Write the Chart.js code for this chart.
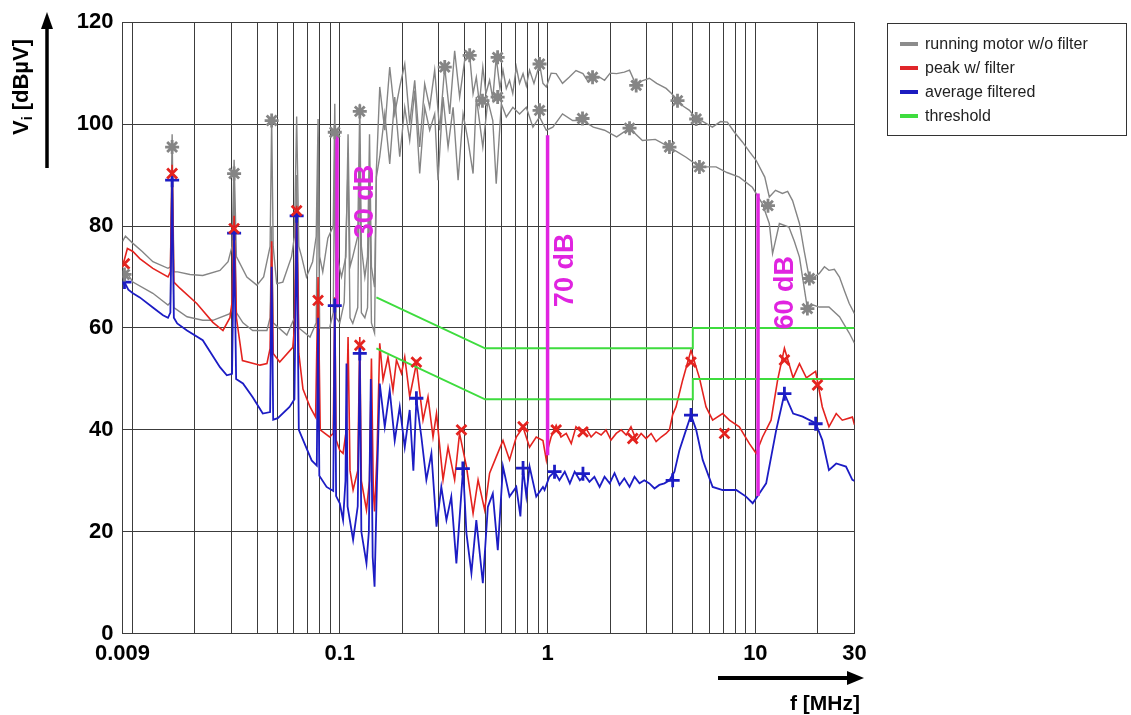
<!DOCTYPE html>
<html>
<head>
<meta charset="utf-8">
<title>Conducted emission V_i</title>
<script src="https://cdn.jsdelivr.net/npm/chart.js@4.4.1/dist/chart.umd.min.js"></script>
<style>
  html, body { margin: 0; padding: 0; background: #fff; }
  #wrap { position: relative; width: 1131px; height: 715px; }
  #legend {
    position: absolute; left: 887px; top: 23px; width: 240px; height: 113px;
    box-sizing: border-box; border: 1.5px solid #333; padding-top: 8px;
    font-family: Arial, "Liberation Sans", sans-serif; font-size: 16px; color: #222;
  }
  .item { display: flex; align-items: center; height: 24px; padding-left: 12px; }
  .swatch { width: 18px; height: 4px; margin-right: 7px; }
</style>
</head>
<body>
<div id="wrap">
  <canvas id="chart" width="1131" height="715"></canvas>
  <div id="legend"></div>
</div>
<script>
// frequency grid (MHz) and labelled ticks
const xGridLines = [0.009, 0.01, 0.02, 0.03, 0.04, 0.05, 0.06, 0.07, 0.08, 0.09,
  0.1, 0.2, 0.3, 0.4, 0.5, 0.6, 0.7, 0.8, 0.9,
  1, 2, 3, 4, 5, 6, 7, 8, 9, 10, 20, 30];
const xLabelValues = [0.009, 0.1, 1, 10, 30];
const yTicks = [0, 20, 40, 60, 80, 100, 120];

// running motor w/o filter, upper (peak) trace  [f MHz, dBuV]
const grayPeak = [
  [0.009, 77], [0.0093, 78], [0.0101, 76.6], [0.0112, 75], [0.0126, 73], [0.0149, 71.7], [0.0153, 72],
  [0.0156, 98], [0.0159, 71], [0.0166, 71], [0.019, 70.5], [0.0219, 70.3], [0.0265, 71.3], [0.029, 73],
  [0.0303, 76], [0.031, 93], [0.0318, 74], [0.0357, 70], [0.0399, 68.4], [0.043, 70], [0.0462, 76],
  [0.047, 101], [0.0478, 76], [0.0497, 68.7], [0.0532, 69], [0.0586, 74], [0.0605, 78], [0.062, 101.5],
  [0.0635, 76], [0.0655, 74], [0.0691, 70], [0.074, 73], [0.077, 78], [0.0786, 101], [0.08, 74],
  [0.0828, 71], [0.0876, 77.6], [0.093, 80], [0.0946, 104], [0.096, 75], [0.1019, 70], [0.107, 74],
  [0.1096, 98], [0.112, 72], [0.1155, 74], [0.122, 78], [0.1248, 104], [0.127, 76], [0.132, 70],
  [0.136, 74], [0.139, 98], [0.142, 72], [0.147, 68], [0.15, 91],
  [0.1557, 107.3], [0.1646, 98.8], [0.1739, 111.2], [0.1838, 102], [0.1943, 107.3], [0.2054, 111.8],
  [0.217, 100.1], [0.2294, 108.6], [0.2424, 95.5], [0.2562, 107.9], [0.2708, 103.3], [0.2862, 110.6],
  [0.3025, 98.8], [0.3197, 111.2], [0.3379, 102], [0.3571, 114.4], [0.3774, 105.3], [0.3989, 112.5],
  [0.4217, 113.5], [0.438, 106], [0.454, 109.2], [0.47, 104], [0.488, 111.2], [0.505, 106],
  [0.526, 108.6], [0.545, 105], [0.566, 113.1], [0.59, 107], [0.61, 110.6], [0.633, 107],
  [0.656, 108.6], [0.68, 106], [0.707, 111.2], [0.733, 108], [0.762, 109.9], [0.79, 107.5],
  [0.819, 110.6], [0.86, 108], [0.915, 111.8], [0.95, 108], [0.986, 107.3], [1.04, 110], [1.1, 109.9],
  [1.18, 108], [1.27, 109.2], [1.37, 110.5], [1.48, 109.9], [1.57, 108.3], [1.66, 109.2], [1.78, 109.2],
  [1.88, 108.6], [2.0, 110], [2.15, 109.9], [2.34, 110.2], [2.48, 110.6], [2.67, 107.6], [2.85, 108.5],
  [3.09, 109], [3.35, 108], [3.72, 107], [3.95, 106], [4.22, 104.6], [4.5, 103.5], [4.82, 102.7],
  [5.19, 101], [5.6, 100.5], [6.21, 99.4], [6.8, 100.5], [7.33, 100.4], [7.9, 98.5], [8.66, 96.5],
  [9.4, 94.5], [10.08, 92.9], [11.1, 89.6], [11.67, 85.7], [12.5, 87], [13.5, 86.4], [14.3, 86.8],
  [15.1, 85], [16.3, 80.5], [17.2, 75], [18.2, 69.7], [19.2, 70], [20.3, 70.7], [21.5, 72],
  [22.6, 71.3], [24, 71.5], [25.4, 70], [27, 67], [28.3, 64.8], [30, 62.8]
];

// running motor w/o filter, lower (average) trace
const grayAvg = [
  [0.009, 70], [0.0094, 71], [0.0101, 69], [0.0126, 66.8], [0.0149, 64.5], [0.0153, 65], [0.0156, 90],
  [0.0159, 64], [0.0184, 62.2], [0.0219, 61.5], [0.0245, 61.5], [0.0296, 62.8], [0.0303, 64],
  [0.031, 88], [0.0318, 63], [0.0342, 61], [0.0381, 59.5], [0.0446, 59.5], [0.0462, 62], [0.047, 80],
  [0.0478, 61], [0.0556, 58.6], [0.0605, 62], [0.062, 90], [0.0635, 60], [0.0719, 58.2], [0.077, 61],
  [0.0786, 95], [0.08, 60], [0.0893, 60], [0.093, 63], [0.0946, 96], [0.096, 62], [0.1, 61],
  [0.105, 65], [0.1096, 92], [0.112, 62], [0.1155, 60.9], [0.122, 64], [0.1248, 96], [0.127, 63],
  [0.132, 62], [0.136, 64], [0.139, 90], [0.142, 61], [0.147, 59], [0.15, 89.6],
  [0.1557, 93.6], [0.1646, 102], [0.1739, 92.2], [0.1838, 105.3], [0.1943, 93.6], [0.2054, 103.3],
  [0.217, 96.8], [0.2294, 106.6], [0.2424, 90.3], [0.2562, 103.3], [0.2708, 98.8], [0.2862, 102],
  [0.297, 89], [0.314, 105.3], [0.332, 95.5], [0.351, 103.3], [0.371, 89], [0.392, 102],
  [0.414, 96.8], [0.438, 90.3], [0.454, 105.3], [0.488, 95.5], [0.516, 104.6], [0.545, 100.7],
  [0.566, 88.3], [0.599, 104], [0.633, 101.4], [0.681, 103.3], [0.733, 102], [0.79, 103.3],
  [0.85, 99.4], [0.915, 101.4], [0.986, 98.8], [1.06, 99.4], [1.18, 102], [1.32, 100.7],
  [1.48, 100.7], [1.66, 99.4], [1.88, 98.8], [2.15, 97.5], [2.48, 99.2], [2.86, 96.8], [3.3, 97],
  [3.86, 95.5], [4.64, 93.5], [5.38, 91.6], [6.47, 91.6], [7.3, 90.5], [8.37, 89.6], [9.67, 87.6],
  [10.8, 84.4], [11.67, 80.5], [12.1, 74.6], [13.05, 80.5], [14.5, 79.8], [15.4, 77], [16.3, 73.9],
  [17.8, 63.8], [19, 64.5], [20.3, 64.1], [22.6, 64.1], [25.4, 62.2], [28.3, 59], [30, 57]
];

// peak w/ filter
const redPeak = [
  [0.009, 72], [0.0095, 75.6], [0.0101, 75], [0.0109, 73.6], [0.0126, 71.7], [0.0149, 70], [0.0153, 71],
  [0.0156, 92], [0.0159, 69], [0.017, 67.8], [0.0205, 64.8], [0.0245, 61.1], [0.0274, 59.5],
  [0.0296, 62], [0.0303, 65], [0.031, 82], [0.0318, 62], [0.034, 53.6], [0.0413, 52.7], [0.0446, 53],
  [0.0462, 56], [0.047, 77], [0.0478, 55], [0.0514, 53.3], [0.0594, 56.2], [0.0605, 60], [0.062, 84],
  [0.0635, 55], [0.0665, 48], [0.0719, 44.5], [0.0765, 42.5], [0.0786, 70], [0.0805, 40],
  [0.0893, 38.6], [0.093, 39.3], [0.0946, 66], [0.096, 38], [0.1, 36], [0.1037, 35.4], [0.1075, 40],
  [0.1096, 58.2], [0.112, 32], [0.1159, 28.2], [0.122, 32], [0.1248, 58.2], [0.127, 30],
  [0.1344, 24.3], [0.139, 30], [0.142, 54], [0.145, 28], [0.147, 24], [0.151, 35], [0.1557, 57],
  [0.1615, 49.8], [0.1706, 54.3], [0.1803, 47.8], [0.1874, 53.7], [0.1981, 51.1], [0.2054, 54.3],
  [0.217, 46.5], [0.2337, 53], [0.2515, 41.9], [0.2658, 46.5], [0.281, 38.6], [0.292, 43.2],
  [0.314, 30.2], [0.332, 36.6], [0.357, 30.2], [0.377, 39.3], [0.407, 32.8], [0.438, 23.6],
  [0.463, 30.2], [0.498, 24.3], [0.526, 31.5], [0.566, 34.7], [0.61, 37.9], [0.656, 34.1],
  [0.707, 38.6], [0.762, 40.5], [0.819, 36.6], [0.882, 38.6], [0.95, 37.9], [0.986, 34.1],
  [1.0, 36], [1.04, 38.6], [1.1, 40.9], [1.16, 38.6], [1.23, 39.3], [1.3, 37.3], [1.37, 40.6],
  [1.45, 39.6], [1.53, 40.3], [1.62, 38.6], [1.71, 39.6], [1.81, 39], [1.91, 40], [2.02, 38],
  [2.14, 39.3], [2.26, 40], [2.39, 39], [2.52, 40.6], [2.67, 38], [2.82, 39.3], [2.98, 38.3],
  [3.15, 39.3], [3.33, 37.7], [3.52, 38.6], [3.72, 39.3], [3.86, 40], [4.0, 43],
  [4.15, 44.5], [4.47, 49.8], [4.9, 55.6], [5.38, 50.2], [5.79, 44.5], [6.23, 41.9], [6.96, 43.2],
  [7.5, 41.9], [8.37, 40.6], [9.36, 37.3], [10.08, 35.4], [10.83, 38.6], [11.9, 41.9], [12.8, 49.8],
  [13.8, 56], [15.2, 50.2], [16.3, 53], [17.6, 50.2], [19.5, 51.5], [21.0, 44.5], [22.6, 40.6],
  [24.5, 43.2], [26.2, 41.9], [29.3, 42.5], [30, 41]
];

// average filtered
const blueAvg = [
  [0.009, 68.5], [0.0092, 69], [0.0096, 67.5], [0.0101, 66.8], [0.0109, 66], [0.0126, 64],
  [0.0141, 62.5], [0.0149, 62], [0.0153, 63], [0.0156, 89.5], [0.0159, 62], [0.0165, 60.9],
  [0.0184, 59.5], [0.0219, 57.6], [0.0265, 52.3], [0.0286, 50.7], [0.0303, 51], [0.031, 79],
  [0.0317, 50], [0.0342, 49.1], [0.0381, 46.4], [0.0426, 43.2], [0.0462, 43.5], [0.047, 72],
  [0.0478, 42], [0.0503, 42.3], [0.0573, 44.5], [0.0605, 46], [0.062, 82.5], [0.0635, 40],
  [0.0732, 34], [0.0775, 33], [0.0786, 62], [0.0797, 31], [0.0864, 28.8], [0.093, 28],
  [0.0946, 64.5], [0.096, 27], [0.1, 25.6], [0.1037, 22.3], [0.1065, 30], [0.1077, 53], [0.109, 25],
  [0.1159, 18.4], [0.122, 25], [0.1248, 55], [0.127, 20], [0.1344, 13.8], [0.138, 20], [0.141, 50],
  [0.144, 15], [0.147, 9.2], [0.151, 30], [0.1557, 49.1], [0.1646, 40.6], [0.1739, 47.8],
  [0.1838, 37.9], [0.1943, 44.5], [0.2054, 36.6], [0.217, 43.9], [0.226, 32], [0.2337, 46],
  [0.247, 38.6], [0.261, 30.2], [0.276, 35.4], [0.292, 21], [0.308, 28.8], [0.326, 22.3],
  [0.344, 26.9], [0.364, 13.8], [0.392, 32.4], [0.407, 19.7], [0.43, 11.9], [0.454, 22.3],
  [0.488, 9.9], [0.516, 24.9], [0.545, 27.5], [0.576, 16.4], [0.61, 32.8], [0.656, 26.9],
  [0.707, 28.8], [0.74, 23], [0.762, 32.5], [0.79, 27], [0.819, 32.8], [0.882, 26.9], [0.95, 28.8],
  [0.967, 28.2], [1.02, 30.8], [1.08, 31.8], [1.14, 30.1], [1.21, 31.8], [1.28, 29.5], [1.35, 31.8],
  [1.43, 30.1], [1.51, 31.1], [1.59, 29.8], [1.68, 30.8], [1.78, 28.8], [1.88, 30.8], [1.99, 29.5],
  [2.1, 31.5], [2.22, 29.2], [2.34, 30.5], [2.48, 28.8], [2.62, 30.8], [2.77, 29.5], [2.92, 30.1],
  [3.09, 29.5], [3.27, 28.5], [3.45, 29.2], [3.65, 29.5], [3.86, 30.1], [4.08, 31.8], [4.31, 36],
  [4.64, 40], [4.9, 42.9], [5.19, 40], [5.58, 34.1], [6.23, 28.8], [6.96, 28.2], [8.09, 28.2],
  [9.02, 26.9], [9.71, 25.6], [10.45, 27.5], [11.27, 29.5], [12.59, 39.9], [13.8, 47.1],
  [15.2, 43.2], [16.9, 42.6], [19.5, 41.3], [21, 38], [22.6, 32.1], [24.5, 33.4], [27.3, 32.8],
  [29.3, 30.2], [30, 30]
];

// measured marker points
const grayMarks = [
  [0.0092, 70.5], [0.0156, 95.5], [0.031, 90.3], [0.047, 100.7], [0.0946, 98.4], [0.1248, 102.5],
  [0.32, 111.2], [0.4217, 113.5], [0.486, 104.6], [0.575, 113.1], [0.575, 105.3], [0.915, 111.8],
  [0.915, 102.7], [1.473, 101.1], [1.646, 109.2], [2.48, 99.2], [2.67, 107.6], [3.86, 95.5],
  [4.22, 104.6], [5.19, 101], [5.38, 91.6], [11.5, 84], [17.8, 63.8], [18.2, 69.7]
];
const redMarks = [
  [0.0092, 72.6], [0.0156, 90.3], [0.031, 79.5], [0.062, 83], [0.0786, 65.4], [0.1248, 56.6],
  [0.2337, 53.3], [0.385, 40], [0.762, 40.6], [1.1, 40], [1.48, 39.6], [2.57, 38.3], [4.9, 53.3],
  [7.1, 39.3], [13.8, 53.7], [19.9, 48.8]
];
const blueMarks = [
  [0.0092, 69], [0.0156, 89], [0.031, 78.6], [0.062, 82], [0.0946, 64.4], [0.1248, 55],
  [0.2337, 46.2], [0.391, 32.4], [0.762, 32.5], [1.08, 31.8], [1.48, 31.4], [4.0, 30.1],
  [4.9, 42.9], [13.8, 47.1], [19.5, 41.2]
];

// thresholds
const limitPeak = [[0.15, 66], [0.5, 56], [5, 56], [5, 60], [30, 60]];
const limitAvg = [[0.15, 56], [0.5, 46], [5, 46], [5, 50], [30, 50]];

// attenuation bars [f, from, to] and their labels [text, f, dB]
const deltaLines = [[0.097, 64, 98], [1.0, 35, 97.8], [10.3, 27, 86.4]];
const deltaLabels = [['30 dB', 0.1334, 84.8], ['70 dB', 1.22, 71.3], ['60 dB', 14.0, 66.9]];

const legendItems = [
  ['running motor w/o filter', '#8c8c8c'],
  ['peak w/ filter', '#e0262a'],
  ['average filtered', '#1c1cc0'],
  ['threshold', '#3edc3e']
];

const GRAY = '#858585', RED = '#e4231f', BLUE = '#1c1cc4', GREEN = '#3edc3e', MAGENTA = '#e024e0';
const FONT = 'Arial, "Liberation Sans", sans-serif';

function toXY(pairs) {
  return pairs.map(p => ({ x: p[0], y: p[1] }));
}

function lineSet(pairs, color, width, order) {
  return {
    data: toXY(pairs), borderColor: color, borderWidth: width,
    pointRadius: 0, fill: false, tension: 0, order: order
  };
}

function markSet(pairs, color, style) {
  return {
    data: toXY(pairs), showLine: false, pointStyle: style, pointRadius: 7,
    pointBorderColor: color, pointBorderWidth: 2.8, pointBackgroundColor: color, order: 0
  };
}

const datasets = [
  lineSet(grayPeak, GRAY, 1.4, 6),
  lineSet(grayAvg, GRAY, 1.4, 6),
  lineSet(redPeak, RED, 1.6, 5),
  lineSet(blueAvg, BLUE, 1.8, 4),
  lineSet(limitPeak, GREEN, 2, 3),
  lineSet(limitAvg, GREEN, 2, 3),
  markSet(grayMarks, GRAY, 'star'),
  markSet(redMarks, RED, 'crossRot'),
  markSet(blueMarks, BLUE, 'cross')
];
deltaLines.forEach(d => {
  datasets.push(lineSet([[d[0], d[1]], [d[0], d[2]]], MAGENTA, 3.5, 1));
});

// Axis arrows, titles and the dB labels
const decorations = {
  id: 'decorations',
  beforeDraw(chart) {
    const ctx = chart.ctx;
    ctx.save();
    ctx.fillStyle = '#fff';
    ctx.fillRect(0, 0, chart.width, chart.height);
    ctx.restore();
  },
  afterDraw(chart) {
    const ctx = chart.ctx;
    const xs = chart.scales.x, ys = chart.scales.y;

    ctx.save();
    ctx.fillStyle = MAGENTA;
    ctx.font = 'bold 27px ' + FONT;
    ctx.textAlign = 'center';
    ctx.textBaseline = 'middle';
    deltaLabels.forEach(l => {
      ctx.save();
      ctx.translate(xs.getPixelForValue(l[1]), ys.getPixelForValue(l[2]));
      ctx.rotate(-Math.PI / 2);
      ctx.fillText(l[0], 0, 0);
      ctx.restore();
    });
    ctx.restore();

    ctx.save();
    ctx.fillStyle = '#000';
    ctx.strokeStyle = '#000';
    // y arrow
    ctx.lineWidth = 3.5;
    ctx.beginPath(); ctx.moveTo(47, 168); ctx.lineTo(47, 26); ctx.stroke();
    ctx.beginPath(); ctx.moveTo(47, 12); ctx.lineTo(41, 29); ctx.lineTo(53, 29); ctx.closePath(); ctx.fill();
    // x arrow
    ctx.lineWidth = 4;
    ctx.beginPath(); ctx.moveTo(718, 678); ctx.lineTo(850, 678); ctx.stroke();
    ctx.beginPath(); ctx.moveTo(864, 678); ctx.lineTo(847, 671); ctx.lineTo(847, 685); ctx.closePath(); ctx.fill();

    // y title with subscript
    ctx.save();
    ctx.translate(22, 87);
    ctx.rotate(-Math.PI / 2);
    ctx.textBaseline = 'middle';
    ctx.textAlign = 'left';
    const big = 'bold 22px ' + FONT, small = 'bold 14px ' + FONT;
    ctx.font = big; const w1 = ctx.measureText('V').width;
    ctx.font = small; const w2 = ctx.measureText('i').width;
    ctx.font = big; const w3 = ctx.measureText(' [dBµV]').width;
    let x0 = -(w1 + w2 + w3) / 2;
    ctx.fillText('V', x0, 0);
    ctx.font = small; ctx.fillText('i', x0 + w1, 6);
    ctx.font = big; ctx.fillText(' [dBµV]', x0 + w1 + w2, 0);
    ctx.restore();

    // x title
    ctx.font = 'bold 21px ' + FONT;
    ctx.textAlign = 'right';
    ctx.textBaseline = 'middle';
    ctx.fillText('f [MHz]', 860, 704);
    ctx.restore();
  }
};

new Chart(document.getElementById('chart'), {
  type: 'line',
  data: { datasets: datasets },
  options: {
    responsive: false,
    animation: false,
    devicePixelRatio: 1,
    layout: { padding: { top: 21.7, right: 276.5, left: 0, bottom: 0 } },
    plugins: { legend: { display: false }, tooltip: { enabled: false } },
    scales: {
      x: {
        type: 'logarithmic', min: 0.009, max: 30,
        afterBuildTicks: scale => { scale.ticks = xGridLines.map(v => ({ value: v })); },
        afterFit: scale => { scale.height = 81.3; },
        ticks: {
          autoSkip: false, maxRotation: 0, padding: 7, color: '#000',
          font: { family: FONT, size: 22, weight: 'bold' },
          callback: v => xLabelValues.includes(v) ? String(v) : ''
        },
        grid: { color: '#3c3c3c', lineWidth: 1, drawTicks: false },
        border: { color: '#3c3c3c', width: 1 }
      },
      y: {
        type: 'linear', min: 0, max: 120,
        afterBuildTicks: scale => { scale.ticks = yTicks.map(v => ({ value: v })); },
        afterFit: scale => { scale.width = 122.5; },
        ticks: {
          padding: 9, color: '#000',
          font: { family: FONT, size: 22, weight: 'bold' }
        },
        grid: { color: '#3c3c3c', lineWidth: 1, drawTicks: false },
        border: { color: '#3c3c3c', width: 1 }
      }
    }
  },
  plugins: [decorations]
});

// HTML legend box
const legend = document.getElementById('legend');
legendItems.forEach(item => {
  const row = document.createElement('div');
  row.className = 'item';
  const sw = document.createElement('span');
  sw.className = 'swatch';
  sw.style.background = item[1];
  const txt = document.createElement('span');
  txt.textContent = item[0];
  row.appendChild(sw);
  row.appendChild(txt);
  legend.appendChild(row);
});
</script>
</body>
</html>
